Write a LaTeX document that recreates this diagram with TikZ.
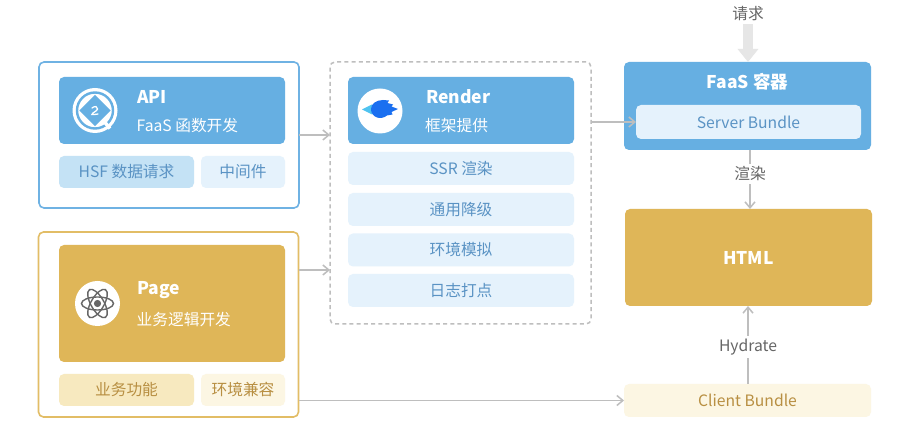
\documentclass[tikz,border=0pt]{standalone}
\usepackage{fontspec}
\setmainfont{Noto Sans CJK SC}
\usetikzlibrary{arrows.meta,calc}
\definecolor{blueA}{HTML}{66AFE2}
\definecolor{blueB}{HTML}{C4E2F5}
\definecolor{blueC}{HTML}{E5F2FC}
\definecolor{blueT}{HTML}{5A93C4}
\definecolor{blueL}{HTML}{6FB2E3}
\definecolor{goldA}{HTML}{DFB658}
\definecolor{goldB}{HTML}{F7E9BF}
\definecolor{goldC}{HTML}{FCF6E3}
\definecolor{goldT}{HTML}{B88F42}
\definecolor{goldL}{HTML}{E2BD66}
\definecolor{lineG}{HTML}{BEBEBE}
\definecolor{thickG}{HTML}{E6E6E6}
\definecolor{textG}{HTML}{666666}
\definecolor{fishA}{HTML}{1A6FF0}
\definecolor{fishB}{HTML}{4FC3F0}
\tikzset{
  every node/.style={font=\fontsize{15.7}{18}\selectfont},
  boxed/.style={rounded corners=5pt,inner sep=0pt,outer sep=0pt},
  frameA/.style={boxed,draw=blueL,line width=1.6pt,fill=white},
  frameB/.style={boxed,draw=goldL,line width=1.6pt,fill=white},
  frameD/.style={boxed,draw=lineG,line width=1.5pt,dash pattern=on 4pt off 3.2pt,fill=white},
  conn/.style={draw=lineG,line width=1.5pt,-{Straight Barb[length=6pt,width=10pt,line width=1.5pt]}},
  fatconn/.style={draw=thickG,line width=10pt,-{Triangle[length=13pt,width=20pt]}},
  plainconn/.style={draw=lineG,line width=1.5pt},
  title/.style={text=white,font=\fontsize{17.5}{20}\selectfont\bfseries,anchor=west,inner sep=0pt},
  subt/.style={text=white,font=\fontsize{15.7}{18}\selectfont,anchor=west,inner sep=0pt},
  lbl/.style={text=textG,inner sep=1pt,outer sep=2pt},
  ic/.style={circle,fill=white,minimum size=45pt,inner sep=0pt}
}
\begin{document}
\begin{tikzpicture}[x=1pt,y=-1pt]
\useasboundingbox (0,0) rectangle (919,443);
\fill[white] (0,0) rectangle (919,443);

% frames
\node[frameA,minimum width=260pt,minimum height=146pt] (apiF) at (169,135) {};
\node[frameB,minimum width=260pt,minimum height=185pt] (pageF) at (168.5,324.5) {};
\node[frameD,minimum width=261pt,minimum height=262pt] (renderF) at (460.5,193) {};

% left column, blue
\node[boxed,fill=blueA,minimum width=226pt,minimum height=67pt] (api) at (172,110.5) {};
\node[boxed,fill=blueB,text=blueT,minimum width=135pt,minimum height=32pt] (hsf) at (126.5,172) {HSF 数据请求};
\node[boxed,fill=blueC,text=blueT,minimum width=84pt,minimum height=32pt] (mid) at (243,172) {中间件};
\node[title] (apiT) at (137,96.5) {API};
\node[subt] (apiS) at (136.5,125.5) {FaaS 函数开发};

% left column, gold
\node[boxed,fill=goldA,minimum width=226pt,minimum height=117pt] (page) at (172,303.5) {};
\node[boxed,fill=goldB,text=goldT,minimum width=135pt,minimum height=32pt] (biz) at (126.5,390) {业务功能};
\node[boxed,fill=goldC,text=goldT,minimum width=84pt,minimum height=32pt] (env) at (243,390) {环境兼容};
\node[title] (pageT) at (137,290) {Page};
\node[subt] (pageS) at (136.5,320) {业务逻辑开发};

% render column
\node[boxed,fill=blueA,minimum width=226pt,minimum height=67pt] (render) at (461,110.5) {};
\node[title] (renderT) at (426,97) {Render};
\node[subt] (renderS) at (425,126) {框架提供};
\node[boxed,fill=blueC,text=blueT,minimum width=226pt,minimum height=33pt] (ssr) at (461,168.5) {SSR 渲染};
\node[boxed,fill=blueC,text=blueT,minimum width=226pt,minimum height=33pt] (deg) at (461,209.5) {通用降级};
\node[boxed,fill=blueC,text=blueT,minimum width=226pt,minimum height=33pt] (sim) at (461,250) {环境模拟};
\node[boxed,fill=blueC,text=blueT,minimum width=226pt,minimum height=33pt] (log) at (461,290.5) {日志打点};

% right column
\node[boxed,fill=blueA,minimum width=247pt,minimum height=88pt] (faas) at (747.5,106) {};
\node[text=white,font=\fontsize{17.5}{20}\selectfont\bfseries,inner sep=0pt] (faasT) at (747.5,81.5) {FaaS 容器};
\node[boxed,fill=blueC,text=blueT,minimum width=225pt,minimum height=34pt] (server) at (748.5,122) {Server Bundle};
\node[boxed,fill=goldA,text=white,font=\fontsize{17.5}{20}\selectfont\bfseries,minimum width=247pt,minimum height=97pt] (html) at (748.5,257.5) {HTML};
\node[boxed,fill=goldC,text=goldT,minimum width=247pt,minimum height=33pt] (client) at (747.5,400.5) {Client Bundle};

% icons
\node[ic] (apiI) at (95,110.5) {};
\node[ic] (renderI) at (380,111) {};
\node[ic] (pageI) at (97.5,303.5) {};

% API icon
\begin{scope}[shift={(apiI.center)}]
  \draw[blueA,line width=2.4pt] (0,0) circle (18pt);
  \draw[white,line width=3.5pt] (10,12) -- (15,18);
  \fill[blueA,rotate=45] (-11,-11) rectangle (11,11);
  \draw[white,line width=1.3pt,line cap=round] (-3,-2.5) .. controls (0,-5) and (3,-4) .. (2.5,-1.5) .. controls (2,1) and (-3,2) .. (-3,4) .. controls (-1,3) and (1,5) .. (3,3.5);
\end{scope}

% Render icon
\begin{scope}[shift={(renderI.center)}]
  \fill[fishB] (-18,-1.5) -- (-8,-6.5) -- (-8,3.5) -- cycle;
  \fill[fishA] (-9,-2) .. controls (-9,-7) and (-4,-11) .. (3,-11) -- (9,-10.5) -- (7.5,-8) -- (13,-6.5) -- (11.5,-4.5) -- (18,-2) -- (11.5,1) -- (12.5,3.5) -- (7,4.5) .. controls (4,7) and (0,7.5) .. (-3,6.5) .. controls (-7,5) and (-9,2) .. (-9,-2) -- cycle;
\end{scope}

% React icon
\begin{scope}[shift={(pageI.center)}]
  \foreach \a in {0,60,120}{
    \draw[textG,line width=1.4pt,rotate=\a] (0,0) ellipse (16pt and 6.5pt);
  }
  \fill[textG] (0,0) circle (3.6pt);
\end{scope}

% connectors
\path (apiF.east) coordinate (a1);
\draw[conn] (a1) -- (a1 -| renderF.west);
\path (pageF.east) ++(0,-54.5) coordinate (a2);
\draw[conn] (a2) -- (a2 -| renderF.west);
\path (renderF.east) ++(0,-71) coordinate (a3);
\draw[conn] (a3) -- (a3 -| server.west);
\draw[conn] (pageF.east |- client.center) -- (client.west);

\node[lbl] (req) at (748,14) {请求};
\draw[fatconn] (req) -- (faas.north -| req);

\node[lbl] (rd) at (750,174) {渲染};
\draw[plainconn] (faas.south -| rd) -- (rd);
\draw[conn] (rd) -- (html.north -| rd);

\node[lbl] (hy) at (748,347) {Hydrate};
\draw[plainconn] (client.north -| hy) -- (hy);
\draw[conn] (hy) -- (html.south -| hy);
\end{tikzpicture}
\end{document}
